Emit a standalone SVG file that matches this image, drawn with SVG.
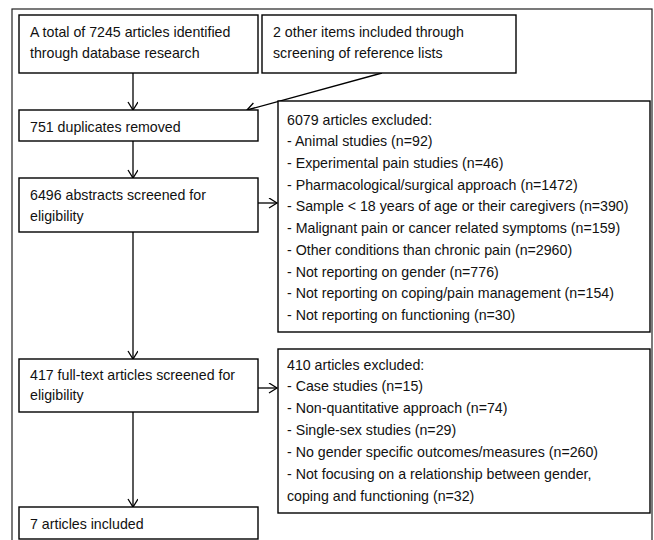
<svg xmlns="http://www.w3.org/2000/svg" width="654" height="540" viewBox="0 0 654 540">
<style>
rect.box{fill:#fff;stroke:#000;stroke-width:1.4}
text{font-family:"Liberation Sans",Arial,sans-serif;font-size:14.2px;fill:#111}
.c{stroke:#000;stroke-width:1.3;fill:none;marker-end:url(#ah)}
</style>
<defs>
<marker id="ah" markerWidth="12" markerHeight="12" refX="9" refY="5" orient="auto" markerUnits="userSpaceOnUse">
<path d="M1,0 L9,5 L1,10" fill="none" stroke="#000" stroke-width="1.3"/>
</marker>
</defs>
<rect x="0" y="0" width="654" height="540" fill="#fff"/>
<rect x="12" y="9" width="640" height="540" fill="none" stroke="#222" stroke-width="1.2"/>
<g id="connectors">
<line class="c" x1="133" y1="73" x2="133" y2="110"/>
<line class="c" x1="382" y1="73" x2="247" y2="110"/>
<line class="c" x1="133" y1="141" x2="133" y2="178"/>
<line class="c" x1="258" y1="203" x2="277" y2="203"/>
<line class="c" x1="133" y1="232" x2="133" y2="359"/>
<line class="c" x1="258" y1="388" x2="277" y2="388"/>
<line class="c" x1="133" y1="412" x2="133" y2="507"/>
</g>
<g id="n1"><rect class="box" x="19" y="15" width="239" height="58"/>
<text x="30" y="37">A total of 7245 articles identified</text>
<text x="30" y="58">through database research</text></g>
<g id="n2"><rect class="box" x="262" y="15" width="254" height="58"/>
<text x="273" y="37">2 other items included through</text>
<text x="273" y="58">screening of reference lists</text></g>
<g id="n3"><rect class="box" x="19" y="110" width="239" height="31"/>
<text x="30" y="132">751 duplicates removed</text></g>
<g id="n4"><rect class="box" x="278" y="101" width="372" height="231"/>
<text x="287" y="124.5">6079 articles excluded:</text>
<text x="287" y="146">- Animal studies (n=92)</text>
<text x="287" y="167.75">- Experimental pain studies (n=46)</text>
<text x="287" y="189.5">- Pharmacological/surgical approach (n=1472)</text>
<text x="287" y="211.25">- Sample &lt; 18 years of age or their caregivers (n=390)</text>
<text x="287" y="233">- Malignant pain or cancer related symptoms (n=159)</text>
<text x="287" y="254.75">- Other conditions than chronic pain (n=2960)</text>
<text x="287" y="276.5">- Not reporting on gender (n=776)</text>
<text x="287" y="298.25">- Not reporting on coping/pain management (n=154)</text>
<text x="287" y="320">- Not reporting on functioning (n=30)</text></g>
<g id="n5"><rect class="box" x="19" y="178" width="239" height="54"/>
<text x="30" y="200">6496 abstracts screened for</text>
<text x="30" y="221">eligibility</text></g>
<g id="n6"><rect class="box" x="278" y="349" width="372" height="164"/>
<text x="287" y="370">410 articles excluded:</text>
<text x="287" y="391">- Case studies (n=15)</text>
<text x="287" y="413">- Non-quantitative approach (n=74)</text>
<text x="287" y="435">- Single-sex studies (n=29)</text>
<text x="287" y="457">- No gender specific outcomes/measures (n=260)</text>
<text x="287" y="479">- Not focusing on a relationship between gender,</text>
<text x="287" y="501">coping and functioning (n=32)</text></g>
<g id="n7"><rect class="box" x="19" y="359" width="239" height="53"/>
<text x="30" y="380">417 full-text articles screened for</text>
<text x="30" y="400">eligibility</text></g>
<g id="n8"><rect class="box" x="19" y="507" width="239" height="32"/>
<text x="30" y="529">7 articles included</text></g>
</svg>
